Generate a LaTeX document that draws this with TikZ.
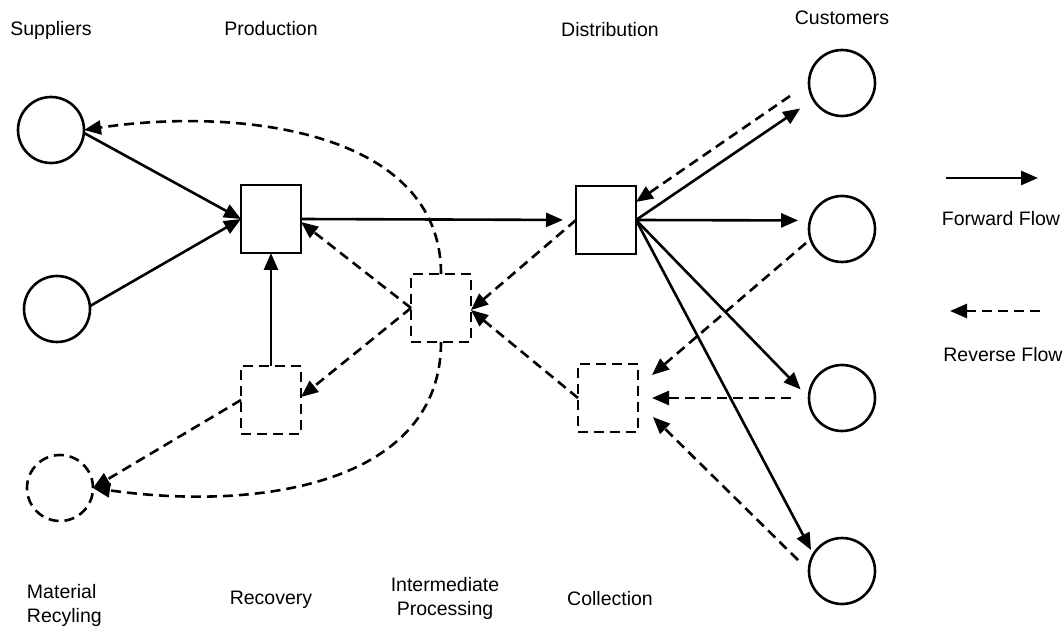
\documentclass[tikz,border=0pt]{standalone}
\usepackage{fontspec}
\setmainfont{Liberation Sans}
\usetikzlibrary{arrows.meta,calc}
\begin{document}
\begin{tikzpicture}[x=1pt,y=-1pt,
  every node/.style={inner sep=0pt,outer sep=0pt},
  flow/.style={line width=2.6pt,-{Triangle[length=17pt,width=14pt]}},
  rflow/.style={flow,dash pattern=on 10pt off 6pt},
  circ/.style={circle,draw,line width=2.6pt,minimum size=66pt},
  rcirc/.style={circ,dash pattern=on 10pt off 6pt},
  sbox/.style={rectangle,draw,line width=2.6pt,minimum width=60pt,minimum height=68pt},
  rbox/.style={sbox,dash pattern=on 10pt off 6pt},
  lbl/.style={font=\fontsize{19.5}{23.5}\selectfont,anchor=base}]
\useasboundingbox (0,0) rectangle (1063,628);
% nodes
\node[circ] (s1) at (51,130) {};
\node[circ] (s2) at (57,309) {};
\node[rcirc] (mr) at (60,488) {};
\node[sbox] (prod) at (271,219) {};
\node[rbox] (rec) at (271,400) {};
\node[rbox] (int) at (441,308) {};
\node[sbox] (dist) at (606,220) {};
\node[rbox] (coll) at (608,398) {};
\node[circ] (c1) at (842,83) {};
\node[circ] (c2) at (842,229) {};
\node[circ] (c3) at (842,398) {};
\node[circ] (c4) at (842,571) {};
% forward flows
\draw[flow] (s1.-5) -- (prod.west);
\draw[flow] (s2.5) -- (prod.west);
\draw[flow,shorten >=13pt] (prod.east) -- (dist.west);
\draw[flow] (rec.north) -- (prod.south);
\draw[flow,shorten >=16pt] (dist.east) -- (c1.210);
\draw[flow,shorten >=12pt] (dist.east) -- (c2.165);
\draw[flow,shorten >=12pt] (dist.east) -- (c3.west);
\draw[flow,shorten >=5pt] (dist.east) -- (c4.150);
% reverse flows
\draw[rflow] ($(c1.west)+(-19,13)$) -- ($(dist.east)+(0,-18)$);
\draw[rflow] ($(c2.west)+(-3,14)$) -- ($(coll.east)+(14,-23)$);
\draw[rflow] ($(c3.west)+(-18,0)$) -- ($(coll.east)+(14,0)$);
\draw[rflow] ($(c4.west)+(-11,-11)$) -- ($(coll.east)+(15,19)$);
\draw[rflow] (coll.west) -- ($(int.east)+(0,2)$);
\draw[rflow] (dist.west) -- ($(int.east)+(0,2)$);
\draw[rflow] (int.west) -- ($(prod.east)+(0,3)$);
\draw[rflow] (int.west) -- ($(rec.east)+(0,-3)$);
\draw[rflow] (rec.west) -- (mr.east);
\draw[rflow] (int.south) .. controls +(0,140) and +(170,24) .. (mr.east);
\draw[rflow] (int.north) .. controls +(0,-144) and +(154,-23) .. (s1.east);
% legend
\coordinate (fa) at (946,178);
\coordinate (fb) at (1038,178);
\draw[flow] (fa) -- (fb);
\coordinate (ra) at (1040,311);
\coordinate (rb) at (950,311);
\draw[rflow] (ra) -- (rb);
% labels
\node[lbl] (tS) at (51,36) {Suppliers};
\node[lbl] (tP) at (271,36) {Production};
\node[lbl] (tD) at (610,37) {Distribution};
\node[lbl] (tC) at (842,25) {Customers};
\node[lbl] (tF) at (1001,226) {Forward Flow};
\node[lbl] (tR) at (1003,361) {Reverse Flow};
\node[lbl] (tRec) at (271,604) {Recovery};
\node[lbl] (tColl) at (610,605) {Collection};
\node[lbl,align=center] (tI) at (445,615) {Intermediate\\Processing};
\node[lbl,align=left,anchor=base west] (tM) at (27,622) {Material\\Recyling};
\end{tikzpicture}
\end{document}
